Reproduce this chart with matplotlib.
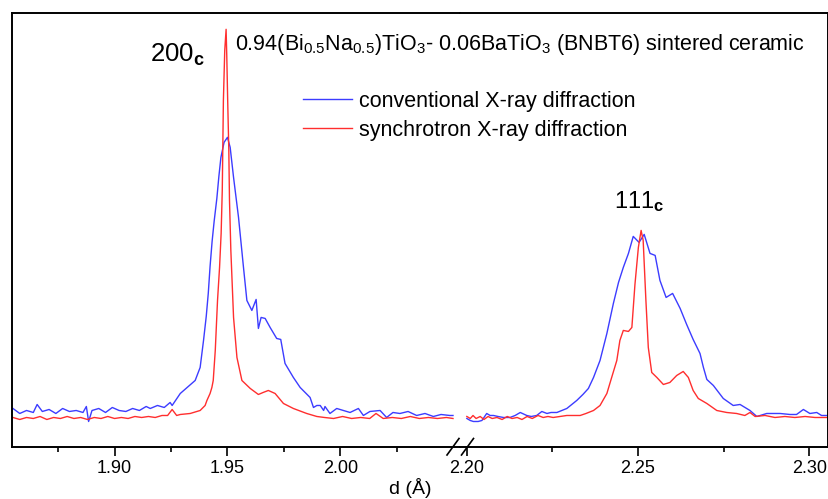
import matplotlib
matplotlib.use("Agg")
import matplotlib.pyplot as plt
from matplotlib.lines import Line2D

plt.rcParams['font.family'] = ['Liberation Sans', 'DejaVu Sans']
plt.rcParams['mathtext.fontset'] = 'custom'
plt.rcParams['mathtext.rm'] = 'Liberation Sans'
plt.rcParams['mathtext.it'] = 'Liberation Sans:italic'
plt.rcParams['mathtext.bf'] = 'Liberation Sans:bold'

# ---------------- data (d in Angstrom, intensity in a.u.) ----------------
conv_left_d = [1.855, 1.858, 1.861, 1.864, 1.8657, 1.868, 1.871, 1.874, 1.877, 1.880,
               1.883, 1.886, 1.8875, 1.8885, 1.890, 1.893, 1.896, 1.899, 1.902, 1.905,
               1.908, 1.911, 1.914, 1.9158, 1.919, 1.922, 1.9246, 1.9255, 1.9291, 1.9357,
               1.9379, 1.9394, 1.9406, 1.9415, 1.9423, 1.9432, 1.9441, 1.9453, 1.9462, 1.9471,
               1.9485, 1.9500, 1.9512, 1.9527,
               1.9549, 1.9571, 1.9586, 1.9608, 1.9627, 1.9637, 1.9649, 1.9667, 1.9689, 1.9718,
               1.9736, 1.9755, 1.9792, 1.9822, 1.9866, 1.9881, 1.9896, 1.9911, 1.9926, 1.9932,
               1.9954, 1.9984, 2.0043, 2.0080, 2.0102, 2.0131, 2.0176, 2.0205, 2.0233, 2.0264,
               2.0300, 2.0338, 2.0375, 2.0412, 2.0446, 2.0485, 2.0499]
conv_left_I = [38, 33, 36, 34, 42, 35, 37, 33, 38, 35,
               36, 34, 40, 25, 36, 38, 34, 39, 36, 35,
               38, 36, 40, 38, 41, 39, 44, 41, 53, 66,
               79, 106, 130, 153, 180, 205, 225, 248, 270, 289,
               304, 309, 299, 269,
               229, 179, 146, 136, 147, 118, 129, 128, 119, 108,
               107, 83, 69, 59, 49, 39, 41, 41, 36, 40,
               33, 38, 34, 38, 31, 35, 36, 29, 34, 33,
               35, 31, 33, 30, 32, 31, 31]

sync_left_d = [1.855, 1.858, 1.861, 1.864, 1.867, 1.870, 1.873, 1.876, 1.879, 1.882,
               1.885, 1.888, 1.891, 1.894, 1.897, 1.900, 1.903, 1.906, 1.909, 1.912,
               1.915, 1.918, 1.921, 1.9235, 1.9255, 1.9275, 1.9291,
               1.9335, 1.9379, 1.9401, 1.9409, 1.9423, 1.9431, 1.9437, 1.9446, 1.9456, 1.9465,
               1.9472, 1.9477, 1.9482, 1.9488, 1.9494, 1.9497, 1.9501, 1.9506, 1.9509, 1.9515,
               1.9527, 1.9542, 1.9564, 1.9601, 1.9637, 1.9658, 1.9681, 1.9711, 1.9748, 1.9792,
               1.9851, 1.9896, 1.993, 1.997, 2.001, 2.005, 2.009, 2.013, 2.0158, 2.019,
               2.023, 2.027, 2.031, 2.035, 2.039, 2.043, 2.047, 2.0499]
sync_left_I = [29, 27, 29, 28, 30, 27, 29, 28, 30, 28,
               29, 27, 29, 28, 30, 28, 29, 28, 30, 29,
               30, 29, 31, 31, 37, 31, 32,
               33, 36, 41, 46, 53, 59, 66, 96, 146, 179,
               213, 256, 346, 396, 417, 390, 346, 296, 246, 196,
               129, 89, 66, 58, 52, 54, 56, 53, 43, 38,
               33, 30, 29, 28, 30, 28, 29, 28, 33, 28,
               29, 28, 30, 28, 29, 28, 29, 28]

conv_right_d = [2.2000, 2.2010, 2.2019, 2.2033, 2.2044, 2.2058, 2.2068, 2.2078, 2.2091, 2.2107,
                2.2126, 2.2141, 2.2156, 2.2175, 2.2188, 2.2204, 2.2219, 2.2234, 2.2246, 2.2263,
                2.2292, 2.2321, 2.2339, 2.2355, 2.2370, 2.2389, 2.2409, 2.2428, 2.2443, 2.2457,
                2.2472, 2.2486, 2.2503, 2.2518, 2.2535, 2.2550, 2.2564, 2.2582, 2.2601, 2.2623,
                2.2642, 2.2661, 2.2681, 2.2691, 2.2701, 2.2720, 2.2749, 2.2778, 2.2798, 2.2827,
                2.2847, 2.2876, 2.2915, 2.2944, 2.2963, 2.2983, 2.3002, 2.3022, 2.3036, 2.3051]
conv_right_I = [28, 26, 25, 25, 26, 33, 31, 31, 30, 29,
                29, 31, 34, 31, 30, 31, 35, 33, 34, 34,
                38, 46, 52, 58, 69, 86, 113, 143, 164, 179,
                193, 210, 204, 212, 193, 191, 166, 149, 153, 138,
                122, 107, 93, 79, 67, 61, 48, 41, 42, 36,
                30, 33, 33, 32, 32, 37, 33, 34, 31, 31]

sync_right_d = [2.2000, 2.2010, 2.2018, 2.2027, 2.2039, 2.2050, 2.2062, 2.2074, 2.2088, 2.2103,
                2.2118, 2.2132, 2.2147, 2.2161, 2.2176, 2.2191, 2.2208, 2.2223, 2.2237, 2.2252,
                2.2272, 2.2292, 2.2310, 2.2331, 2.2348, 2.2370, 2.2389, 2.2409, 2.2423, 2.2438,
                2.2447, 2.2457, 2.2472, 2.2482, 2.2491, 2.2501, 2.2509, 2.2515, 2.2523, 2.2530,
                2.2540, 2.2555, 2.2574, 2.2593, 2.2613, 2.2632, 2.2647, 2.2661, 2.2676, 2.2701,
                2.2730, 2.2759, 2.2788, 2.2812, 2.2827, 2.2842, 2.2871, 2.2900, 2.2929, 2.2958,
                2.2988, 2.3017, 2.3051]
sync_right_I = [30, 28, 31, 28, 30, 27, 30, 28, 29, 27,
                30, 28, 29, 27, 30, 28, 31, 29, 30, 29,
                30, 31, 31, 31, 33, 36, 41, 53, 69, 86,
                106, 116, 115, 119, 162, 199, 216, 206, 146, 99,
                74, 69, 62, 64, 71, 75, 69, 56, 48, 43,
                36, 34, 33, 31, 34, 30, 31, 29, 30, 29,
                30, 29, 29]

left_major = [1.90, 1.95, 2.00]
left_minor = [1.875, 1.925, 1.975, 2.025]
right_major = [2.20, 2.25, 2.30]
right_minor = [2.225, 2.275]

series_labels = ["conventional X-ray diffraction", "synchrotron X-ray diffraction"]
title_text = (r"0.94(Bi$_{0.5}$Na$_{0.5}$)TiO$_{3}$- 0.06BaTiO$_{3}$ "
              r"(BNBT6) sintered ceramic")

BLUE = '#3c3cff'
RED = '#ff2e2e'

# ---------------- figure ----------------
W, H = 829, 499
fig = plt.figure(figsize=(W / 100, H / 100), dpi=100)

def fx(px):
    return px / W

def fy(py):
    return 1 - py / H

top_px, bot_px = 13.3, 446.5
left_px, brk_px, right_px = 12.3, 460.0, 827.7

axL = fig.add_axes([fx(left_px), fy(bot_px), fx(brk_px) - fx(left_px), (bot_px - top_px) / H])
axR = fig.add_axes([fx(brk_px), fy(bot_px), fx(right_px) - fx(brk_px), (bot_px - top_px) / H])

axL.plot(conv_left_d, conv_left_I, color=BLUE, lw=1.0)
axL.plot(sync_left_d, sync_left_I, color=RED, lw=1.0)
axR.plot(conv_right_d, conv_right_I, color=BLUE, lw=1.0)
axR.plot(sync_right_d, sync_right_I, color=RED, lw=1.0)

axL.set_xlim(1.8547, 2.0530)
axR.set_xlim(2.1980, 2.3054)
for ax in (axL, axR):
    ax.set_ylim(0, 433)
    ax.set_yticks([])
    for s in ax.spines.values():
        s.set_linewidth(1.4)
    ax.tick_params(axis='x', which='major', direction='out', length=6.5, width=1.2,
                   labelsize=13, pad=3, top=False)
    ax.tick_params(axis='x', which='minor', direction='out', length=3.6, width=1.2, top=False)

axL.spines['right'].set_visible(False)
axR.spines['left'].set_visible(False)

axL.set_xticks(left_major)
axL.set_xticks(left_minor, minor=True)
axL.set_xticklabels([f"{v:.2f}" for v in left_major])
axR.set_xticks(right_major)
axR.set_xticks(right_minor, minor=True)
axR.set_xticklabels([f"{v:.2f}" for v in right_major])

# break marks
for x0 in (447.0, 461.5):
    fig.add_artist(Line2D([fx(x0), fx(x0 + 12)], [fy(455), fy(438.5)],
                          color='black', lw=1.2, transform=fig.transFigure))

# texts
fig.text(fx(235), fy(50), title_text, fontsize=15.5, ha='left', va='baseline')
fig.text(fx(150), fy(62), r"200$_{\mathbf{c}}$", fontsize=18.5, ha='left', va='baseline')
fig.text(fx(614), fy(208), r"111$_{\mathbf{c}}$", fontsize=17, ha='left', va='baseline')
fig.text(fx(410), fy(498), "d (Å)", fontsize=14, ha='center', va='bottom')

handles = [Line2D([], [], color=BLUE, lw=1.0), Line2D([], [], color=RED, lw=1.0)]
fig.legend(handles, series_labels, loc='upper left',
           bbox_to_anchor=(fx(303), fy(90.5)), frameon=False, fontsize=15.5,
           handlelength=2.28, handletextpad=0.33, borderpad=0, borderaxespad=0,
           labelspacing=0.39)

fig.savefig("out.png", dpi=100)
